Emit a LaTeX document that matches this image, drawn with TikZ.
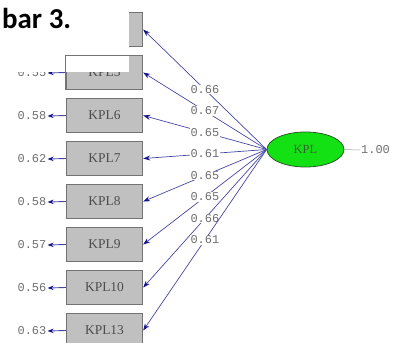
\documentclass[tikz,border=0pt]{standalone}
\usepackage{fontspec}
\setmainfont{Liberation Serif}
\newfontfamily\monof{Liberation Mono}
\newfontfamily\capf{Carlito}
\usetikzlibrary{shapes.geometric,arrows.meta}
\definecolor{boxfill}{RGB}{192,192,192}
\definecolor{boxline}{RGB}{115,115,115}
\definecolor{pathblue}{RGB}{70,70,165}
\definecolor{headblue}{RGB}{20,20,140}
\definecolor{numgray}{RGB}{110,110,110}
\definecolor{latgreen}{RGB}{20,225,20}
\definecolor{latline}{RGB}{40,90,40}
\definecolor{lattext}{RGB}{50,100,50}
\begin{document}
\begin{tikzpicture}[x=1bp,y=-1bp,
  obs/.style={draw=boxline,fill=boxfill,line width=1.4bp,minimum width=76bp,minimum height=34bp,inner sep=0pt,
    font=\fontsize{13.5}{13.5}\selectfont,text=black!70},
  lat/.style={ellipse,draw=latline,fill=latgreen,line width=0.8bp,minimum width=77bp,minimum height=35bp,inner sep=0pt,
    font=\fontsize{12.5}{12.5}\selectfont,text=lattext},
  num/.style={font=\monof\fontsize{12}{12}\selectfont,text=numgray,inner sep=1bp},
  lab/.style={num,fill=white,inner sep=0.8bp},
  load/.style={draw=pathblue,line width=0.7bp,-{Stealth[length=7bp,width=5bp,color=headblue]}},
  errarr/.style={draw=pathblue,line width=0.9bp,-{Stealth[length=6bp,width=4.5bp,color=headblue]}}
]
\useasboundingbox (0,0) rectangle (395,343);
% latent
\node[lat] (kpl) at (305.5,149.5) {KPL};
\coordinate (k) at (kpl.west);
% boxes
\node[obs] (b1) at (104.5,29.5) {};
\node[obs] (b2) at (104.5,72.5) {KPL5};
\node[obs] (b3) at (104.5,115.5) {KPL6};
\node[obs] (b4) at (104.5,158.5) {KPL7};
\node[obs] (b5) at (104.5,201.5) {KPL8};
\node[obs] (b6) at (104.5,244.5) {KPL9};
\node[obs] (b7) at (104.5,287.5) {KPL10};
\node[obs] (b8) at (104.5,330.5) {KPL13};
% error labels
\node[num] (e2) at (32,73) {0.55};
\node[num] (e3) at (32,116) {0.58};
\node[num] (e4) at (32,159) {0.62};
\node[num] (e5) at (32,202) {0.58};
\node[num] (e6) at (32,245) {0.57};
\node[num] (e7) at (32,288) {0.56};
\node[num] (e8) at (32,331) {0.63};
\foreach \i in {2,...,8}{\draw[errarr] (b\i.west) -- (e\i.east);}
% loadings
\draw[load] (k) -- (b1.east) node[lab,pos=0.5] {0.66};
\draw[load] (k) -- (b2.east) node[lab,pos=0.5] {0.67};
\draw[load] (k) -- (b3.east) node[lab,pos=0.5] {0.65};
\draw[load] (k) -- (b4.east) node[lab,pos=0.5] {0.61};
\draw[load] (k) -- (b5.east) node[lab,pos=0.5] {0.65};
\draw[load] (k) -- (b6.east) node[lab,pos=0.5] {0.65};
\draw[load] (k) -- (b7.east) node[lab,pos=0.5] {0.66};
\draw[load] (k) -- (b8.east) node[lab,pos=0.5] {0.61};
% variance of latent
\node[num,anchor=west] (one) at (360,150) {1.00};
\draw[black!35,line width=0.5bp] (kpl.east) -- (one.west);
% overlay caption
\fill[white] (0,0) rectangle (129,72);
\draw[boxline,line width=1.4bp] (b2.south west) |- (129,55.5);
\node[anchor=base west,inner sep=0pt,font=\capf\bfseries\fontsize{29}{29}\selectfont] (cap) at (2,28) {bar 3.};
\end{tikzpicture}
\end{document}
